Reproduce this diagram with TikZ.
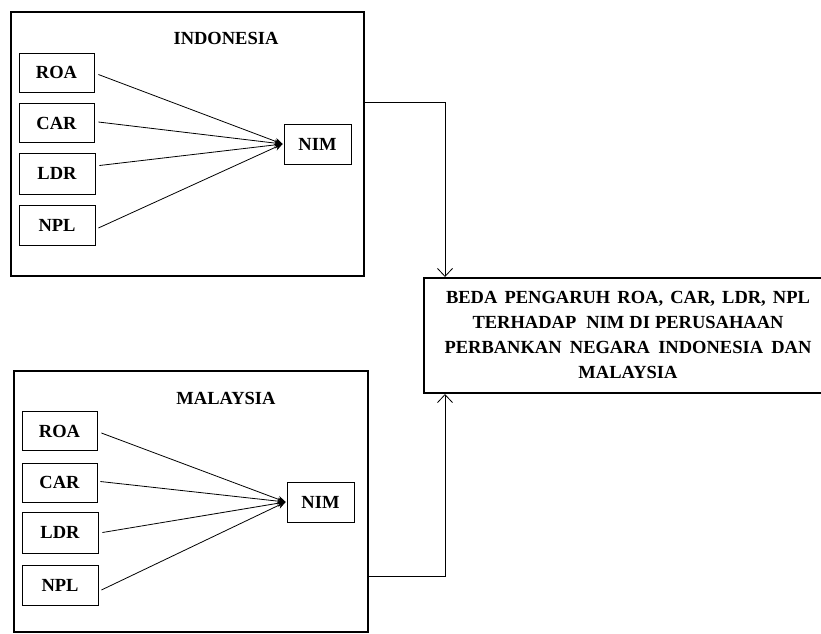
\documentclass[tikz,border=0pt]{standalone}
\usepackage{fontspec}
\setmainfont{Liberation Serif}
\usetikzlibrary{arrows.meta}
\begin{document}
\begin{tikzpicture}[x=1pt,y=-1pt,
  txt/.style={font=\fontsize{18.5}{25}\selectfont\bfseries,inner sep=0pt},
  var/.style={txt,draw,line width=0.8pt,minimum width=75pt,minimum height=39pt},
  dep/.style={var,minimum width=67pt,minimum height=40pt},
  country/.style={draw,line width=2pt,inner sep=0pt},
  infl/.style={line width=0.8pt,-{Stealth[length=8pt,width=7pt]}},
  link/.style={line width=0.8pt,-{Straight Barb[length=8pt,width=15pt]}}]
\useasboundingbox (0,0) rectangle (821,633);

\node[country,minimum width=353pt,minimum height=264pt] (indo) at (187.5,144) {};
\node[txt] (ttlA) at (226,38) {INDONESIA};
\node[var] (roaA) at (56.5,72.5) {ROA};
\node[var] (carA) at (56.5,123) {CAR};
\node[var,minimum width=76pt,minimum height=41pt] (ldrA) at (57,173.5) {LDR};
\node[var,minimum width=76pt,minimum height=40pt] (nplA) at (57,225) {NPL};
\node[dep] (nimA) at (317.5,144) {NIM};
\draw[infl] ([xshift=4pt,yshift=-2pt]roaA.east) -- ([xshift=-1pt]nimA.west);
\draw[infl] ([xshift=4pt,yshift=1pt]carA.east) -- ([xshift=-1pt]nimA.west);
\draw[infl] ([xshift=4pt,yshift=8pt]ldrA.east) -- ([xshift=-1pt]nimA.west);
\draw[infl] ([xshift=3pt,yshift=-3pt]nplA.east) -- ([xshift=-1pt]nimA.west);

\node[country,minimum width=354pt,minimum height=261pt] (malay) at (191,501.5) {};
\node[txt] (ttlB) at (226,398) {MALAYSIA};
\node[var] (roaB) at (59.5,431) {ROA};
\node[var] (carB) at (59.5,482.5) {CAR};
\node[var,minimum width=76pt,minimum height=41pt] (ldrB) at (60,532.5) {LDR};
\node[var,minimum width=76pt,minimum height=40pt] (nplB) at (60,585) {NPL};
\node[dep] (nimB) at (320.5,502) {NIM};
\draw[infl] ([xshift=4pt,yshift=-2pt]roaB.east) -- ([xshift=-1pt]nimB.west);
\draw[infl] ([xshift=3pt,yshift=1pt]carB.east) -- ([xshift=-1pt]nimB.west);
\draw[infl] ([xshift=4pt]ldrB.east) -- ([xshift=-1pt]nimB.west);
\draw[infl] ([xshift=3pt,yshift=-5pt]nplB.east) -- ([xshift=-1pt]nimB.west);

\node[txt,align=center] (res) at (628,335) {%
\makebox[364pt][s]{BEDA PENGARUH ROA, CAR, LDR, NPL}\\
\makebox[311pt][s]{TERHADAP\ \ NIM DI PERUSAHAAN}\\
\makebox[367pt][s]{PERBANKAN NEGARA INDONESIA DAN}\\
MALAYSIA};
\draw[line width=2pt] (821,278) -- (424,278) -- (424,393) -- (821,393);
\coordinate (inA) at (445,277);
\coordinate (inB) at (445,394);

\draw[link] ([yshift=42pt]indo.east) -| (inA);
\draw[link] ([yshift=-74.5pt]malay.east) -| (inB);

\end{tikzpicture}
\end{document}
